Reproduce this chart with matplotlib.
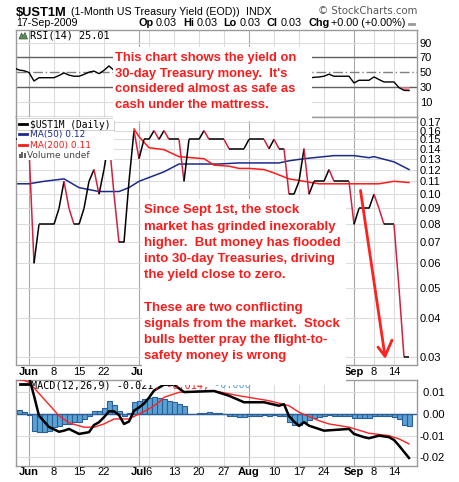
import numpy as np
import matplotlib
matplotlib.use("Agg")
import matplotlib.pyplot as plt
from matplotlib.collections import LineCollection
from matplotlib.patches import Rectangle, Polygon
from matplotlib.lines import Line2D
from matplotlib.ticker import NullLocator

plt.rcParams['font.family'] = ['Liberation Sans', 'DejaVu Sans']

W, H = 460, 482

# trading-day index: 0 = Mon 1-Jun-2009, first value is 27-May (index -3)
first_day = -3
close = [0.15, 0.15, 0.14, 0.14, 0.06, 0.08, 0.08, 0.08, 0.08, 0.09,
         0.11, 0.09, 0.08, 0.08, 0.09, 0.11, 0.12, 0.10, 0.12, 0.15,
         0.10, 0.07, 0.07, 0.11, 0.16, 0.13, 0.15, 0.15, 0.16, 0.15,
         0.16, 0.15, 0.15, 0.15, 0.11, 0.15, 0.15, 0.15, 0.16, 0.15,
         0.15, 0.15, 0.15, 0.14, 0.14, 0.14, 0.14, 0.15, 0.15, 0.15,
         0.15, 0.14, 0.15, 0.14, 0.14, 0.10, 0.10, 0.11, 0.14, 0.10,
         0.11, 0.11, 0.11, 0.12, 0.11, 0.11, 0.11, 0.11, 0.08, 0.09,
         0.09, 0.09, 0.10, 0.09, 0.08, 0.08, 0.08, 0.05, 0.03, 0.03]

rsi = [56, 53, 52, 49.5, 38, 42.5, 42.5, 42.5, 42.5, 45.5,
       49, 46, 44.5, 44.5, 47, 50, 51.5, 48, 52.5, 58.5,
       52.5, 44, 42, 50, 58, 52, 56, 56, 58, 56,
       58, 56, 56, 56, 45, 55, 55, 55, 57, 55,
       55, 55, 55, 52, 52, 52, 52, 54, 54, 54,
       54, 52, 54, 52, 52, 43, 43, 45, 51, 42,
       43, 43.5, 44.5, 47.3, 44.5, 44.5, 44.5, 44.5, 35.3, 39,
       39, 39, 43.6, 40, 36.7, 36.7, 36.7, 29, 25.3, 25.0]

hist = [0.0018, 0.0018, 0.0010, -0.0003, -0.0077, -0.0084, -0.0084, -0.0080, -0.0062, -0.0054,
        -0.0046, -0.0046, -0.0038, -0.0035, -0.0023, -0.0010, 0.0012, 0.0015, 0.0026, 0.0060,
        0.0040, 0.0015, -0.0008, 0.0003, 0.0054, 0.0061, 0.0069, 0.0072, 0.0077, 0.0072,
        0.0069, 0.0061, 0.0054, 0.0046, 0.0035, 0.0, 0.0002, 0.0004, 0.0006, 0.0008,
        0.0005, 0.0003, 0.0, -0.0008, -0.0008, -0.0015, -0.0015, -0.0008, -0.0008, -0.0008,
        -0.0006, -0.0008, -0.0006, -0.0008, -0.0010, -0.0035, -0.0050, -0.0050, -0.0038, -0.0030,
        -0.0020, -0.0015, -0.0008, -0.0006, -0.0008, -0.0008, -0.0008, -0.0008, -0.0020, -0.0020,
        -0.0020, -0.0020, -0.0010, -0.0010, -0.0008, -0.0010, -0.0012, -0.0025, -0.0050, -0.0057]

ma50_days = [-3, 0, 3, 7, 10, 14, 18, 20, 22, 27, 30, 38, 42, 50, 52, 55, 61, 65, 68, 69, 73, 76]
ma50 = [0.108, 0.108, 0.110, 0.112, 0.105, 0.102, 0.102, 0.105, 0.110, 0.118, 0.125,
        0.125, 0.126, 0.126, 0.128, 0.130, 0.133, 0.133, 0.131, 0.132, 0.127, 0.120]

ma200_days = [21, 22, 24, 27, 30, 35, 37, 40, 42, 44, 47, 49, 52, 55, 58, 70, 73, 76]
ma200 = [0.162, 0.153, 0.141, 0.139, 0.132, 0.130, 0.124, 0.123, 0.121, 0.121,
         0.120, 0.117, 0.112, 0.110, 0.108, 0.108, 0.110, 0.109]

macd_days = [-3, -2, -1, 0, 1, 2, 4, 6, 7, 8, 10, 12, 13, 14, 15, 16, 17, 18, 19, 20,
             21, 22, 23, 24, 25, 27, 29, 31, 37, 40, 43, 47, 50, 51, 52, 53, 54, 55, 56,
             59, 64, 65, 67, 68, 70, 72, 73, 74, 76]
macd = [0.021, 0.020, 0.019, 0.017, 0.0084, -0.0008, -0.006, -0.0082, -0.0077, -0.0069,
        -0.0092, -0.0084, -0.0051, -0.0038, -0.0015, 0.0012, 0.0012, -0.0005, -0.0046, -0.0035,
        0.0015, 0.0030, 0.0048, 0.0075, 0.0108, 0.0135, 0.0135, 0.0101, 0.0106, 0.0084,
        0.0054, 0.0054, 0.0038, 0.0045, -0.0010, -0.0035, -0.0055, -0.0038, -0.0054,
        -0.0077, -0.0069, -0.0092, -0.0107, -0.0112, -0.0100, -0.0107, -0.0120, -0.0146, -0.0203]

signal_days = [-3, -1, 0, 3, 6, 8, 11, 13, 15, 17, 20, 22, 24, 26, 27, 30, 37, 42, 48,
               52, 54, 58, 60, 64, 68, 72, 74, 76]
signal = [0.016, 0.0155, 0.0146, 0.0069, -0.0008, -0.0041, -0.0061, -0.0061, -0.0046,
          -0.0023, -0.0023, 0.0, 0.0023, 0.0054, 0.0077, 0.0100, 0.0107, 0.0084, 0.0061,
          0.0038, 0.0008, -0.0031, -0.0046, -0.0061, -0.0089, -0.0100, -0.0115, -0.0138]

tick_days = [0, 5, 10, 15, 22, 24, 29, 34, 39, 44, 49, 54, 59, 65, 69, 73]
tick_labels = ["Jun", "8", "15", "22", "Jul", "6", "13", "20", "27",
               "Aug", "10", "17", "24", "Sep", "8", "14"]
month_days = [0, 22, 44, 65]

price_ticks = [0.03, 0.04, 0.05, 0.06, 0.07, 0.08, 0.09, 0.10,
               0.11, 0.12, 0.13, 0.14, 0.15, 0.16, 0.17]
rsi_ticks = [10, 30, 50, 70, 90]
macd_ticks = [-0.02, -0.01, 0.0, 0.01]

days = np.arange(first_day, first_day + len(close))

fig = plt.figure(figsize=(W / 100, H / 100), dpi=100)
fig.patch.set_facecolor('white')


def fx(x):
    return x / W


def fy(y):
    return 1 - y / H


def panel(top, bottom):
    ax = fig.add_axes([fx(16), fy(bottom), (417 - 16) / W, (bottom - top) / H])
    ax.set_xlim(-2.6, 77.6)
    for s in ax.spines.values():
        s.set_color('#9a9a9a')
        s.set_linewidth(1)
    ax.yaxis.tick_right()
    ax.tick_params(length=0, labelsize=8, pad=2)
    for d in tick_days:
        ax.axvline(d, color='#a8a8a8' if d in month_days else '#dcdcdc', lw=0.8, zorder=0)
    return ax


def date_axis(ax, pad):
    ax.set_xticks(tick_days, tick_labels)
    ax.tick_params(axis='x', pad=pad, labelsize=8)
    for lbl in ax.get_xticklabels():
        if not lbl.get_text().isdigit():
            lbl.set_fontweight('bold')


# ---- RSI panel
ax1 = panel(30, 116.5)
ax1.set_ylim(-10.3, 107.4)
ax1.set_yticks(rsi_ticks, [str(v) for v in rsi_ticks])
ax1.set_xticks([])
for v in (90, 10):
    ax1.axhline(v, color='#dcdcdc', lw=0.8, zorder=0)
for v in (70, 30):
    ax1.axhline(v, color='#606060', lw=1, zorder=1)
ax1.axhline(50, color='#808080', lw=1, ls=(0, (7, 2, 1, 2)), zorder=1)
rsi_arr = np.array(rsi)
ax1.fill_between(days, rsi_arr, 30, where=rsi_arr < 30, interpolate=True,
                 color='#f0909a', lw=0, zorder=2)
ax1.plot(days, rsi, color='black', lw=1, zorder=3)

# ---- price panel
ax2 = panel(116.5, 364.5)
ax2.set_yscale('log')
ax2.set_ylim(0.0284, 0.1776)
ax2.set_yticks(price_ticks, [f"{v:.2f}" for v in price_ticks])
ax2.yaxis.set_minor_locator(NullLocator())
for v in price_ticks:
    ax2.axhline(v, color='#dcdcdc', lw=0.8, zorder=0)
pts = np.column_stack([days, close])
segs = np.stack([pts[:-1], pts[1:]], axis=1)
cols = ['#d2203f' if b < a else 'black' for a, b in zip(close[:-1], close[1:])]
ax2.add_collection(LineCollection(segs, colors=cols, linewidths=1.1, zorder=3))
ax2.plot(ma50_days, ma50, color='#1c2a8a', lw=1.1, zorder=2)
ax2.plot(ma200_days, ma200, color='#ff1a1a', lw=1.1, zorder=2)
date_axis(ax2, 1.5)

# hand-drawn arrow toward the last prints
arrow_kw = dict(color='#ff2020', lw=2, solid_capstyle='round', zorder=4)
ax2.plot([66.3, 71.2], [0.1028, 0.0302], **arrow_kw)
ax2.plot([69.8, 71.2, 72.6], [0.0323, 0.0302, 0.034], **arrow_kw)

# ---- MACD panel
ax3 = panel(379.5, 466)
ax3.set_ylim(-0.024, 0.0159)
ax3.set_yticks(macd_ticks, ["-0.02", "-0.01", " 0.00", " 0.01"])
for v in (-0.02, -0.01, 0.01):
    ax3.axhline(v, color='#dcdcdc', lw=0.8, zorder=0)
ax3.bar(days, hist, width=1.0, color='#5aa2d2', edgecolor='#2c5f9a', lw=0.8, zorder=2)
ax3.axhline(0, color='#2c5f9a', lw=1, zorder=2)
ax3.plot(signal_days, signal, color='#ff2020', lw=1, zorder=3)
ax3.plot(macd_days, macd, color='black', lw=1.8, zorder=4)
date_axis(ax3, 1)

# ---- header
fig.text(fx(16), fy(16), "$UST1M", fontsize=9.3, fontweight='bold', va='baseline')
fig.text(fx(71.5), fy(15), "(1-Month US Treasury Yield (EOD))", fontsize=7.7, va='baseline')
fig.text(fx(246), fy(15), "INDX", fontsize=7.7, va='baseline')
fig.text(fx(318), fy(14.5), "\u00a9 StockCharts.com", fontsize=7.3, color='#555555',
         family='DejaVu Sans', va='baseline')
fig.text(fx(16), fy(26.5), "17-Sep-2009", fontsize=7.7, va='baseline')
quote = [("Op", 139, 'bold'), ("0.03", 155.5, 'normal'), ("Hi", 183, 'bold'),
         ("0.03", 197, 'normal'), ("Lo", 223, 'bold'), ("0.03", 240, 'normal'),
         ("Cl", 267, 'bold'), ("0.03", 281, 'normal'), ("Chg", 309, 'bold'),
         ("+0.00 (+0.00%)", 331, 'normal')]
for s, x, w in quote:
    fig.text(fx(x), fy(26.5), s, fontsize=7.8, fontweight=w, va='baseline')
fig.add_artist(Line2D([fx(409), fx(414)], [fy(23.5), fy(23.5)], color='#999999', lw=2))

# ---- panel legends
fig.add_artist(Polygon([(fx(19), fy(39)), (fx(21.5), fy(33)), (fx(23), fy(36)),
                        (fx(25), fy(32.5)), (fx(27.5), fy(39))],
                       closed=True, facecolor='#5d8a5d', edgecolor='#3c5c3c', lw=0.5))
fig.text(fx(30), fy(38.5), "RSI(14) 25.01", fontsize=7.4, family='DejaVu Sans Mono', va='baseline')

fig.add_artist(Rectangle((fx(16.5), fy(160)), (114 - 16.5) / W, (160 - 117) / H,
                         facecolor='white', edgecolor='none', zorder=5))
fig.add_artist(Rectangle((fx(17), fy(130)), (114 - 17) / W, (130 - 118) / H,
                         facecolor='none', edgecolor='#c8c8c8', lw=0.6, zorder=6))
legend_rows = [("$UST1M (Daily)", 'black', 127.5, 123.5, 'DejaVu Sans Mono', 6.9),
               ("MA(50) 0.12", '#1c2a8a', 137.5, 134.3, 'DejaVu Sans', 6.5),
               ("MA(200) 0.11", '#ff1a1a', 148, 145, 'DejaVu Sans', 6.5)]
for label, c, base, ly, fam, fs in legend_rows:
    fig.add_artist(Line2D([fx(19), fx(27)], [fy(ly), fy(ly)], color=c, lw=2, zorder=6))
    fig.text(fx(29.5), fy(base), label, color=c, fontsize=fs, family=fam,
             va='baseline', zorder=7)
for i, hgt in enumerate([4, 6, 5]):
    fig.add_artist(Rectangle((fx(19 + 2.4 * i), fy(158)), 1.8 / W, hgt / H,
                             facecolor='#666666', edgecolor='none', zorder=6))
fig.text(fx(27.5), fy(158), "Volume undef", color='#444444', fontsize=6.5,
         family='DejaVu Sans', va='baseline', zorder=7)

fig.add_artist(Line2D([fx(20), fx(28)], [fy(384), fy(384)], color='black', lw=2))
cw = 6.1
fig.text(fx(31.5), fy(388.5), "MACD(12,26,9) -0.021", fontsize=7.3,
         family='DejaVu Sans Mono', va='baseline')
fig.text(fx(31.5 + 20 * cw), fy(388.5), ", -0.014,", color='#ff2020', fontsize=7.3,
         family='DejaVu Sans Mono', va='baseline')
fig.text(fx(31.5 + 29 * cw), fy(388.5), " -0.006", color='#5aa2d2', fontsize=7.3,
         family='DejaVu Sans Mono', va='baseline')

# ---- commentary boxes
fig.add_artist(Rectangle((fx(113), fy(121)), (312 - 113) / W, (121 - 47) / H,
                         facecolor='white', edgecolor='none', zorder=10))
note1 = ["This chart shows the yield on",
         "30-day Treasury money.  It's",
         "considered almost as safe as",
         "cash under the mattress."]
for k, line in enumerate(note1):
    fig.text(fx(115), fy(60.7 + 15.9 * k), line, color='#ff1a1a', fontsize=9.4,
             fontweight='bold', va='baseline', zorder=11)

fig.add_artist(Rectangle((fx(142), fy(385)), (346 - 142) / W, (385 - 199) / H,
                         facecolor='white', edgecolor='none', zorder=10))
note2 = ["Since Sept 1st, the stock",
         "market has grinded inexorably",
         "higher.  But money has flooded",
         "into 30-day Treasuries, driving",
         "the yield close to zero.",
         "",
         "These are two conflicting",
         "signals from the market.  Stock",
         "bulls better pray the flight-to-",
         "safety money is wrong"]
for k, line in enumerate(note2):
    fig.text(fx(144), fy(213.5 + 16.2 * k), line, color='#ff1a1a', fontsize=9.5,
             fontweight='bold', va='baseline', zorder=11)

fig.savefig("out.png", dpi=100)
